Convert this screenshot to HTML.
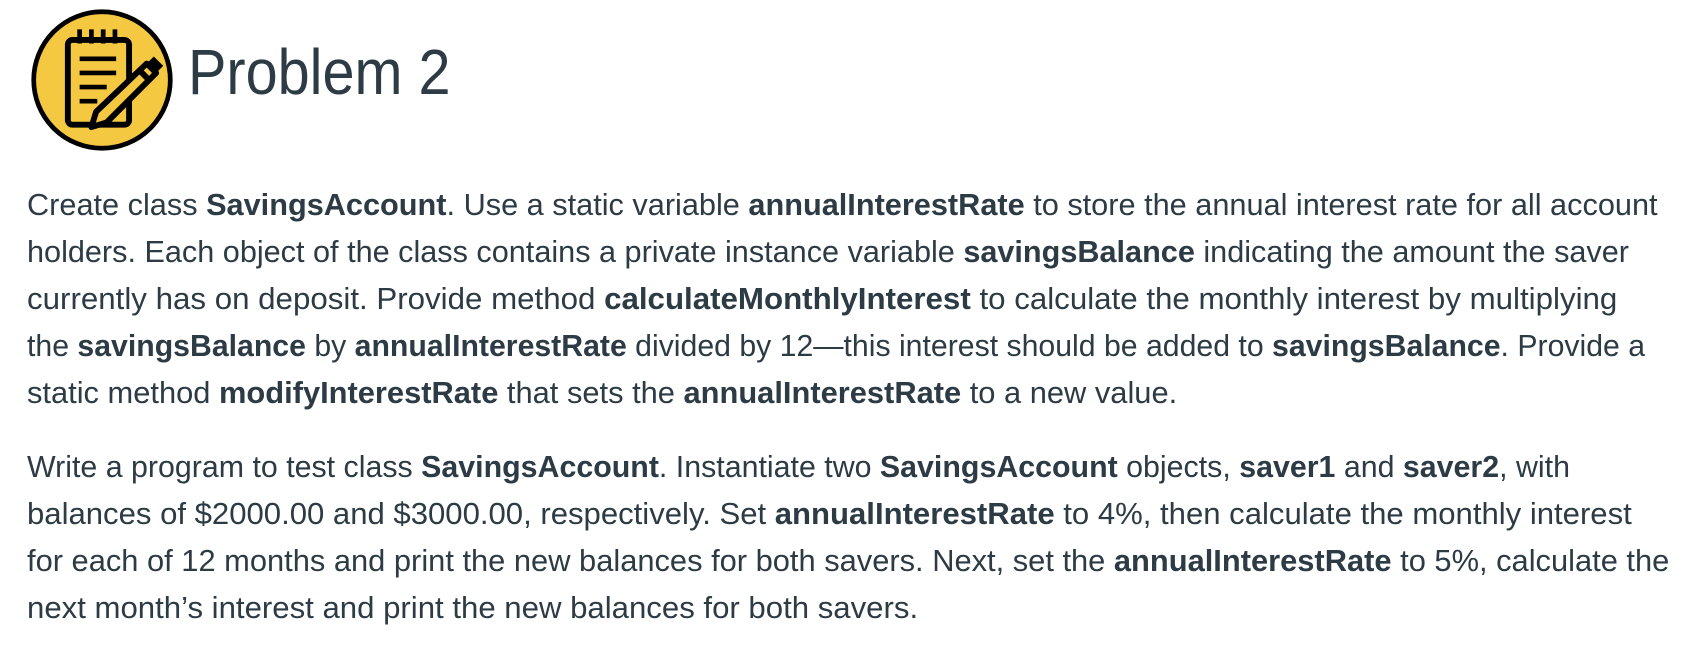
<!DOCTYPE html>
<html><head><meta charset="utf-8"><style>
body{margin:0;width:1702px;height:668px;background:#fff;overflow:hidden;font-family:"Liberation Sans",sans-serif;color:#2d3b45}
.ln{position:absolute;left:27px;white-space:nowrap;font-size:30.7px;line-height:47px;transform-origin:0 50%}
b{font-weight:bold}
h1{position:absolute;left:188px;top:34px;margin:0;font-weight:normal;font-size:64px;line-height:76px;color:#2d3b45;transform:scaleX(0.9);transform-origin:0 50%;white-space:nowrap}
</style></head><body>
<svg style="position:absolute;left:29px;top:7px" width="146" height="146" viewBox="0 0 124 124">
<circle cx="62" cy="62" r="58" fill="#f5c842" stroke="#000" stroke-width="4"/>
<rect x="33" y="28" width="52" height="72" rx="4" fill="none" stroke="#000" stroke-width="5"/>
<g stroke="#000" stroke-width="4"><line x1="43" y1="19" x2="43" y2="31"/><line x1="53" y1="19" x2="53" y2="31"/><line x1="63" y1="19" x2="63" y2="31"/><line x1="73" y1="19" x2="73" y2="31"/>
<line x1="43" y1="44" x2="74" y2="44"/><line x1="43" y1="56" x2="74" y2="56"/><line x1="43" y1="68" x2="66" y2="68"/><line x1="43" y1="80" x2="58" y2="80"/></g>
<path d="M100 48 L108 56 L66 98 L53 102 L57 89 Z" fill="#f5c842" stroke="#000" stroke-width="5" stroke-linejoin="round"/>
<path d="M94 54 L102 62" stroke="#000" stroke-width="5"/>
<path d="M100 48 L106 42 L114 50 L108 56 Z" fill="#000"/>
</svg>
<h1>Problem 2</h1>
<div>
<div class="ln" style="top:181px">Create class <b>SavingsAccount</b>. Use a static variable <b>annualInterestRate</b> to store the annual interest rate for all account</div>
<div class="ln" style="top:228px;transform:scaleX(0.998)">holders. Each object of the class contains a private instance variable <b>savingsBalance</b> indicating the amount the saver</div>
<div class="ln" style="top:275px;transform:scaleX(1.019)">currently has on deposit. Provide method <b>calculateMonthlyInterest</b> to calculate the monthly interest by multiplying</div>
<div class="ln" style="top:322px;transform:scaleX(0.985)">the <b>savingsBalance</b> by <b>annualInterestRate</b> divided by 12—this interest should be added to <b>savingsBalance</b>. Provide a</div>
<div class="ln" style="top:369px;transform:scaleX(1.005)">static method <b>modifyInterestRate</b> that sets the <b>annualInterestRate</b> to a new value.</div>
</div>
<div>
<div class="ln" style="top:443px;transform:scaleX(0.989)">Write a program to test class <b>SavingsAccount</b>. Instantiate two <b>SavingsAccount</b> objects, <b>saver1</b> and <b>saver2</b>, with</div>
<div class="ln" style="top:490px;transform:scaleX(1.013)">balances of $2000.00 and $3000.00, respectively. Set <b>annualInterestRate</b> to 4%, then calculate the monthly interest</div>
<div class="ln" style="top:537px;transform:scaleX(1.005)">for each of 12 months and print the new balances for both savers. Next, set the <b>annualInterestRate</b> to 5%, calculate the</div>
<div class="ln" style="top:584px;transform:scaleX(1.015)">next month’s interest and print the new balances for both savers.</div>
</div>
</body></html>
